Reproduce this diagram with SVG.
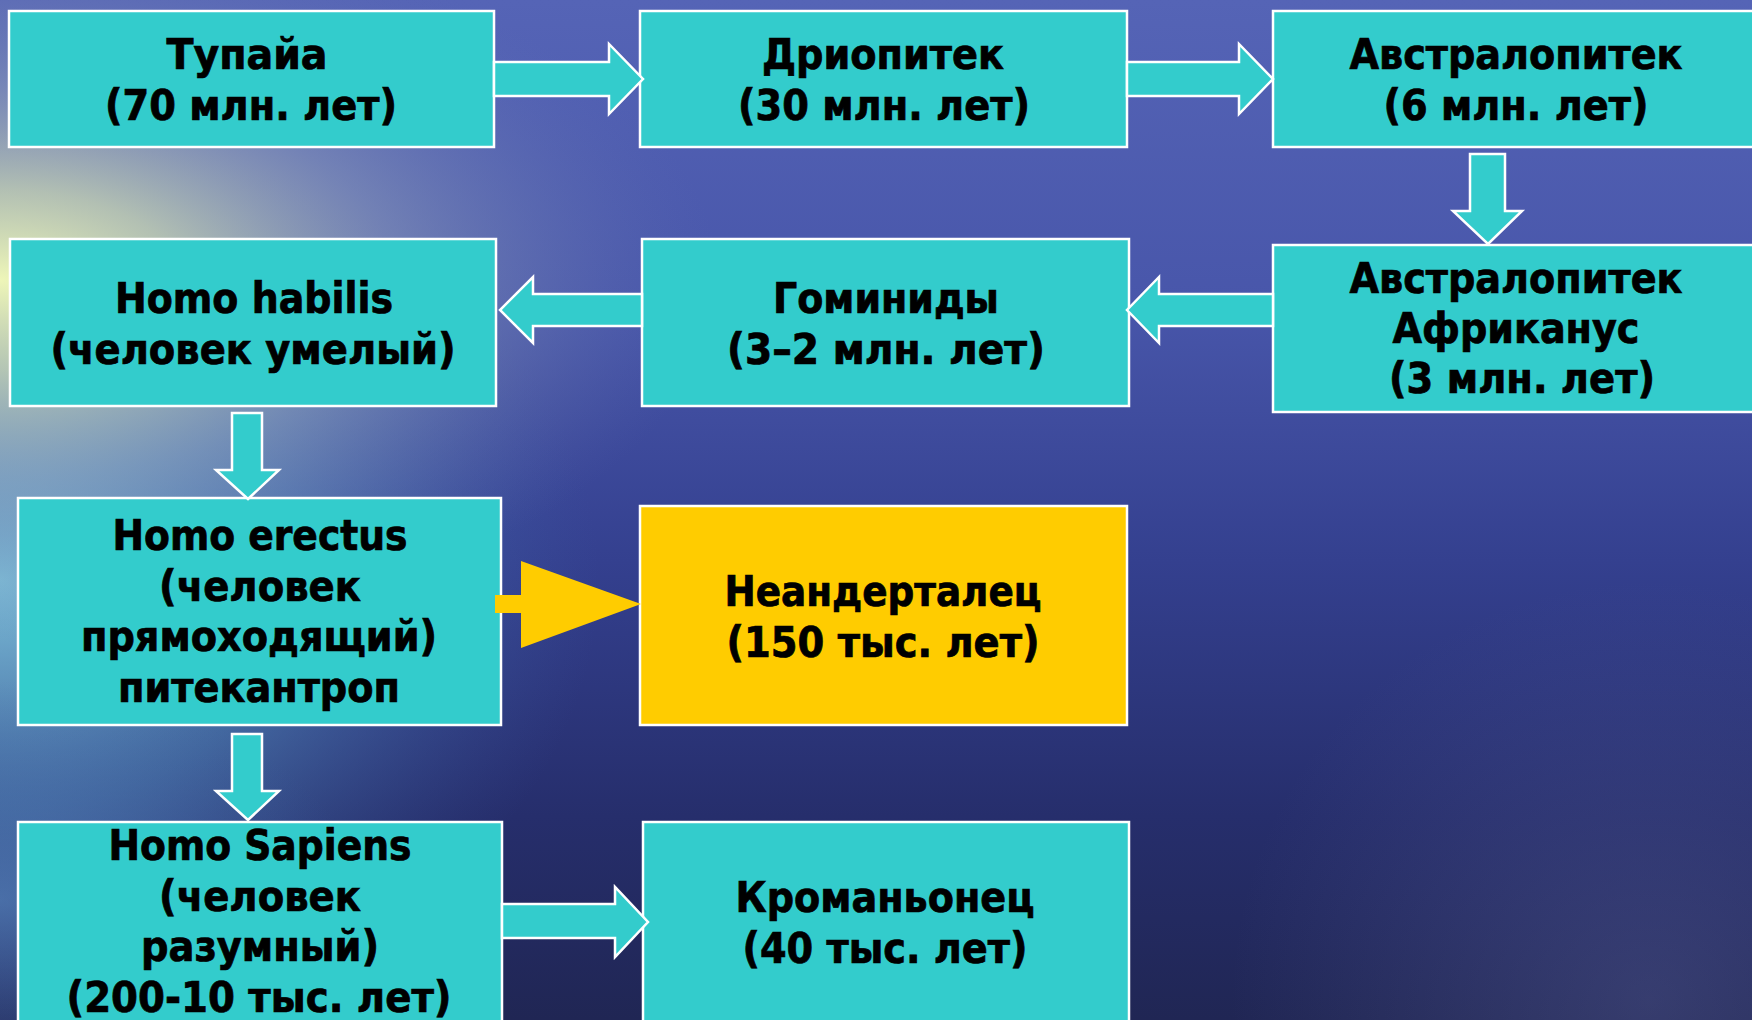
<svg xmlns="http://www.w3.org/2000/svg" width="1752" height="1020" viewBox="0 0 1752 1020">
<defs>
<linearGradient id="bg" x1="0" y1="0" x2="0" y2="1">
<stop offset="0" stop-color="#5564b6"/>
<stop offset="0.3" stop-color="#4856aa"/>
<stop offset="0.55" stop-color="#34408f"/>
<stop offset="0.8" stop-color="#262e6c"/>
<stop offset="1" stop-color="#202654"/>
</linearGradient>
<radialGradient id="glow1" cx="0" cy="0" r="1" gradientUnits="userSpaceOnUse" gradientTransform="translate(0,280) scale(720,360)">
<stop offset="0" stop-color="#eef6b8" stop-opacity="1"/>
<stop offset="0.25" stop-color="#ccd8b4" stop-opacity="0.8"/>
<stop offset="0.55" stop-color="#98a8bc" stop-opacity="0.5"/>
<stop offset="1" stop-color="#6070b0" stop-opacity="0"/>
</radialGradient>
<radialGradient id="glow2" cx="0" cy="0" r="1" gradientUnits="userSpaceOnUse" gradientTransform="translate(0,580) scale(600,460)">
<stop offset="0" stop-color="#86cde0" stop-opacity="0.9"/>
<stop offset="0.5" stop-color="#5a9ac6" stop-opacity="0.5"/>
<stop offset="1" stop-color="#4060a8" stop-opacity="0"/>
</radialGradient>
<radialGradient id="glow3" cx="1650" cy="1000" r="420" gradientUnits="userSpaceOnUse">
<stop offset="0" stop-color="#6a70a8" stop-opacity="0.3"/>
<stop offset="1" stop-color="#6a70a8" stop-opacity="0"/>
</radialGradient>
<radialGradient id="glow4" cx="0" cy="0" r="1" gradientUnits="userSpaceOnUse" gradientTransform="translate(0,900) scale(360,220)">
<stop offset="0" stop-color="#5a8ac4" stop-opacity="0.6"/>
<stop offset="1" stop-color="#4060a8" stop-opacity="0"/>
</radialGradient>
<style>
.box{fill:#33cccc;stroke:#ffffff;stroke-width:2.5}
.yel{fill:#ffcc00;stroke:#ffffff;stroke-width:2.5}
.arr{fill:#33cccc;stroke:#ffffff;stroke-width:2.5;stroke-linejoin:miter}
.yarr{fill:#ffcc00;stroke:none}
text{font-family:"DejaVu Sans Condensed","DejaVu Sans",sans-serif;font-stretch:condensed;font-weight:bold;font-size:42px;fill:#000000;stroke:#000000;stroke-width:0.7;text-anchor:middle}
</style>
</defs>
<rect x="0" y="0" width="1752" height="1020" fill="url(#bg)"/>
<rect x="0" y="0" width="1752" height="1020" fill="url(#glow2)"/>
<rect x="0" y="0" width="1752" height="1020" fill="url(#glow4)"/>
<rect x="0" y="0" width="1752" height="1020" fill="url(#glow1)"/>
<rect x="0" y="0" width="1752" height="1020" fill="url(#glow3)"/>

<g id="tupaia">
<rect class="box" x="9" y="11" width="485" height="136"/>
<text x="247" y="69" textLength="161" lengthAdjust="spacingAndGlyphs">Тупайа</text>
<text x="251" y="120" textLength="292" lengthAdjust="spacingAndGlyphs">(70 млн. лет)</text>
</g>
<g id="driopitek">
<rect class="box" x="640" y="11" width="487" height="136"/>
<text x="883" y="69" textLength="242" lengthAdjust="spacingAndGlyphs">Дриопитек</text>
<text x="884" y="120" textLength="292" lengthAdjust="spacingAndGlyphs">(30 млн. лет)</text>
</g>
<g id="australopithecus">
<rect class="box" x="1273" y="11" width="500" height="136"/>
<text x="1516" y="69" textLength="333" lengthAdjust="spacingAndGlyphs">Австралопитек</text>
<text x="1516" y="120" textLength="265" lengthAdjust="spacingAndGlyphs">(6 млн. лет)</text>
</g>
<g id="homo-habilis">
<rect class="box" x="10" y="239" width="486" height="167"/>
<text x="254" y="313" textLength="278" lengthAdjust="spacingAndGlyphs">Homo habilis</text>
<text x="253" y="364" textLength="405" lengthAdjust="spacingAndGlyphs">(человек умелый)</text>
</g>
<g id="hominids">
<rect class="box" x="642" y="239" width="487" height="167"/>
<text x="886" y="313" textLength="226" lengthAdjust="spacingAndGlyphs">Гоминиды</text>
<text x="886" y="364" textLength="318" lengthAdjust="spacingAndGlyphs">(3–2 млн. лет)</text>
</g>
<g id="australopithecus-africanus">
<rect class="box" x="1273" y="245" width="500" height="167"/>
<text x="1516" y="293" textLength="333" lengthAdjust="spacingAndGlyphs">Австралопитек</text>
<text x="1516" y="343" textLength="247" lengthAdjust="spacingAndGlyphs">Африканус</text>
<text x="1522" y="393" textLength="266" lengthAdjust="spacingAndGlyphs">(3 млн. лет)</text>
</g>
<g id="homo-erectus">
<rect class="box" x="18" y="498" width="483" height="227"/>
<text x="260" y="550" textLength="295" lengthAdjust="spacingAndGlyphs">Homo erectus</text>
<text x="260" y="601" textLength="202" lengthAdjust="spacingAndGlyphs">(человек</text>
<text x="259" y="651" textLength="356" lengthAdjust="spacingAndGlyphs">прямоходящий)</text>
<text x="259" y="702" textLength="282" lengthAdjust="spacingAndGlyphs">питекантроп</text>
</g>
<g id="neanderthal">
<rect class="yel" x="640" y="506" width="487" height="219"/>
<text x="883" y="606" textLength="317" lengthAdjust="spacingAndGlyphs">Неандерталец</text>
<text x="883" y="657" textLength="313" lengthAdjust="spacingAndGlyphs">(150 тыс. лет)</text>
</g>
<g id="homo-sapiens">
<rect class="box" x="18" y="822" width="484" height="220"/>
<text x="260" y="860" textLength="303" lengthAdjust="spacingAndGlyphs">Homo Sapiens</text>
<text x="260" y="911" textLength="202" lengthAdjust="spacingAndGlyphs">(человек</text>
<text x="260" y="961" textLength="238" lengthAdjust="spacingAndGlyphs">разумный)</text>
<text x="259" y="1012" textLength="385" lengthAdjust="spacingAndGlyphs">(200-10 тыс. лет)</text>
</g>
<g id="cro-magnon">
<rect class="box" x="643" y="822" width="486" height="220"/>
<text x="885" y="912" textLength="299" lengthAdjust="spacingAndGlyphs">Кроманьонец</text>
<text x="885" y="963" textLength="285" lengthAdjust="spacingAndGlyphs">(40 тыс. лет)</text>
</g>

<g id="connectors">
<polygon class="arr" points="494,62 609,62 609,44 643,79 609,114 609,96 494,96"/>
<polygon class="arr" points="1127,62 1239,62 1239,44 1273,79 1239,114 1239,96 1127,96"/>
<polygon class="arr" points="1470,154 1505,154 1505,211 1522,211 1488,244 1453,211 1470,211"/>
<polygon class="arr" points="1273,294 1159,294 1159,277 1127,310 1159,343 1159,326 1273,326"/>
<polygon class="arr" points="642,294 533,294 533,277 500,310 533,343 533,326 642,326"/>
<polygon class="arr" points="232,413 262,413 262,470 279,470 248,499 216,470 232,470"/>
<polygon class="arr" points="232,734 262,734 262,791 279,791 248,820 216,791 232,791"/>
<polygon class="yarr" points="495,595 521,595 521,561 641,604 521,648 521,613 495,613"/>
<polygon class="arr" points="502,904 615,904 615,887 648,922 615,957 615,938 502,938"/>
</g>
</svg>
